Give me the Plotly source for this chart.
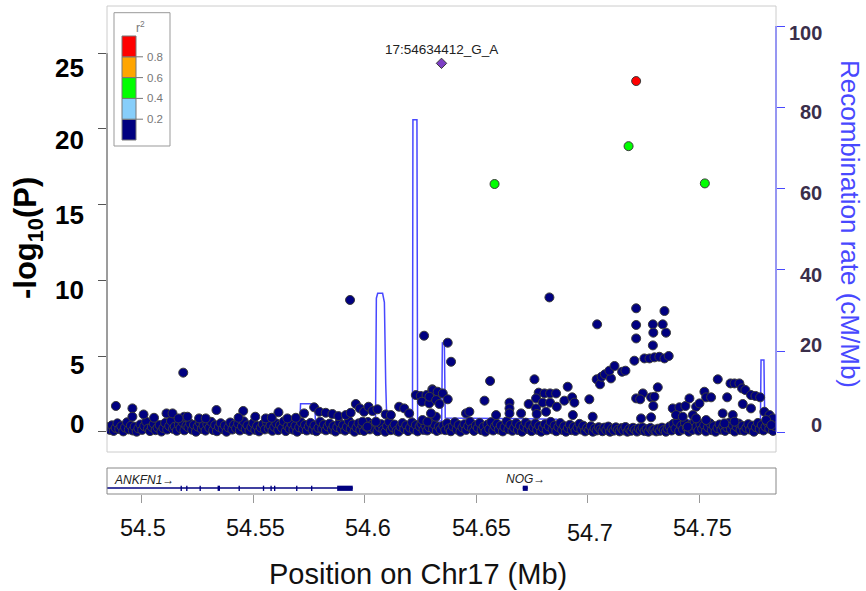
import plotly.graph_objects as go

# ---------------- data ----------------
x_range = [54.484412, 54.784412]

lead_name = "17:54634412_G_A"
lead_pos = [54.634412]
lead_logp = [24.33]

hi_pos = [54.7217, 54.7183, 54.6582, 54.7525]
hi_logp = [23.16, 18.86, 16.36, 16.40]
hi_r2 = [0.85, 0.50, 0.50, 0.50]

mid_pos = [54.4884, 54.4958, 54.5008, 54.4958, 54.5111, 54.5138, 54.5055, 54.5190, 54.5205, 54.5165,
           54.5186, 54.5335, 54.5257, 54.5287, 54.5455, 54.5434, 54.5509, 54.5556, 54.5583, 54.5613,
           54.5653, 54.5691, 54.5728, 54.5773, 54.5796, 54.5825, 54.5855, 54.5882, 54.5915, 54.5937,
           54.5934, 54.5960, 54.5978, 54.5997, 54.6017, 54.6035, 54.6057, 54.6094, 54.6117, 54.6154,
           54.6177, 54.6199, 54.6229, 54.6251, 54.6277, 54.6303, 54.6326, 54.6256, 54.6289, 54.6259,
           54.6281, 54.6319, 54.5990, 54.6050, 54.6012, 54.6266,
           54.6305, 54.6327, 54.6290, 54.6320, 54.6350, 54.6372, 54.6372, 54.6387, 54.6297, 54.6335,
           54.6454, 54.6469, 54.6537, 54.6562, 54.6589, 54.6649, 54.6649, 54.6649, 54.6701, 54.6735,
           54.6761, 54.6780, 54.6806, 54.6831, 54.6858, 54.6768, 54.6798, 54.6831, 54.6861, 54.6768,
           54.6813, 54.6771, 54.6828, 54.6895, 54.6910, 54.6930, 54.6940, 54.6933, 54.7007, 54.7022,
           54.7040, 54.7055, 54.7062, 54.7077, 54.7104, 54.7097, 54.7120, 54.7154, 54.7169, 54.7042,
           54.7209, 54.7254, 54.7277, 54.7299, 54.7321, 54.7344, 54.7363, 54.7217, 54.7217, 54.7217,
           54.7292, 54.7336, 54.7344, 54.7294, 54.7351, 54.7292, 54.7314, 54.7247, 54.7217, 54.7235,
           54.7284, 54.7299, 54.7294, 54.7284, 54.7239, 54.7381, 54.7411, 54.7438, 54.7456, 54.7486,
           54.7501, 54.7523, 54.7531, 54.7553, 54.7583, 54.7625, 54.7640, 54.7658, 54.7680, 54.7692,
           54.7707, 54.7732, 54.7752, 54.7773, 54.7605, 54.7650, 54.7695, 54.7732, 54.7613, 54.7658,
           54.7396, 54.7426, 54.7471, 54.7486, 54.7531, 54.7448, 54.7792, 54.7815, 54.7830, 54.7800,
           54.7823]
mid_logp = [1.70, 1.54, 1.14, 0.99, 1.21, 1.21, 0.92, 0.99, 0.99, 0.88,
            3.90, 1.43, 0.88, 0.88, 1.37, 0.92, 0.99, 0.88, 0.92, 1.28,
            0.88, 0.92, 1.21, 1.61, 1.32, 1.25, 1.17, 1.03, 1.10, 1.25,
            8.70, 1.83, 1.54, 1.32, 1.65, 1.37, 1.48, 1.14, 1.10, 1.65,
            1.54, 1.21, 2.42, 2.36, 2.42, 2.80, 2.42, 1.98, 1.87, 0.77,
            0.66, 0.99, 0.66, 0.66, 0.33, 6.34,
            2.75, 2.64, 2.31, 2.09, 2.53, 2.14, 5.88, 4.62, 1.21, 1.83,
            1.21, 1.32, 2.05, 3.35, 1.10, 1.92, 1.54, 1.21, 1.21, 1.83,
            3.46, 2.58, 2.53, 2.53, 2.53, 2.20, 1.92, 1.92, 1.65, 1.54,
            1.32, 1.17, 8.87, 2.05, 2.97, 2.27, 1.92, 1.10, 2.14, 0.99,
            3.46, 3.13, 3.63, 3.79, 3.52, 4.03, 4.34, 3.96, 4.03, 7.09,
            4.69, 4.84, 4.84, 4.91, 4.95, 4.84, 5.00, 8.15, 7.05, 6.16,
            7.09, 7.09, 7.97, 6.54, 6.54, 5.70, 2.93, 2.53, 2.20, 2.14,
            2.27, 2.31, 1.70, 0.95, 0.88, 1.54, 1.61, 1.70, 2.20, 1.65,
            1.87, 2.64, 2.27, 2.27, 3.46, 2.27, 3.19, 3.19, 3.19, 2.86,
            2.75, 2.42, 2.36, 2.27, 1.21, 1.10, 1.83, 1.54, 0.55, 0.66,
            1.10, 0.99, 1.10, 0.88, 0.77, 0.33, 1.32, 1.10, 0.88, 0.77,
            0.44]

low_pos = [54.4849, 54.4857, 54.4866, 54.4874, 54.4883, 54.4891, 54.4899, 54.4908, 54.4917, 54.4925,
           54.4934, 54.4942, 54.4951, 54.4960, 54.4968, 54.4977, 54.4985, 54.4994, 54.5002, 54.5011,
           54.5020, 54.5028, 54.5037, 54.5045, 54.5054, 54.5062, 54.5071, 54.5080, 54.5088, 54.5097,
           54.5105, 54.5114, 54.5123, 54.5131, 54.5140, 54.5148, 54.5157, 54.5166, 54.5174, 54.5183,
           54.5191, 54.5200, 54.5209, 54.5217, 54.5226, 54.5234, 54.5243, 54.5251, 54.5260, 54.5269,
           54.5277, 54.5286, 54.5294, 54.5303, 54.5312, 54.5320, 54.5329, 54.5337, 54.5346, 54.5354,
           54.5363, 54.5372, 54.5380, 54.5389, 54.5397, 54.5406, 54.5414, 54.5423, 54.5432, 54.5440,
           54.5449, 54.5457, 54.5466, 54.5474, 54.5483, 54.5492, 54.5500, 54.5509, 54.5517, 54.5526,
           54.5534, 54.5543, 54.5552, 54.5560, 54.5569, 54.5577, 54.5586, 54.5594, 54.5603, 54.5612,
           54.5620, 54.5629, 54.5637, 54.5646, 54.5654, 54.5663, 54.5672, 54.5680, 54.5689, 54.5697,
           54.5706, 54.5714, 54.5723, 54.5732, 54.5740, 54.5749, 54.5757, 54.5766, 54.5774, 54.5783,
           54.5792, 54.5800, 54.5809, 54.5817, 54.5826, 54.5834, 54.5843, 54.5852, 54.5860, 54.5869,
           54.5877, 54.5886, 54.5894, 54.5903, 54.5912, 54.5920, 54.5929, 54.5937, 54.5946, 54.5954,
           54.5963, 54.5972, 54.5980, 54.5989, 54.5997, 54.6006, 54.6014, 54.6023, 54.6032, 54.6040,
           54.6049, 54.6057, 54.6066, 54.6074, 54.6083, 54.6092, 54.6100, 54.6109, 54.6117, 54.6126,
           54.6134, 54.6143, 54.6152, 54.6160, 54.6169, 54.6177, 54.6186, 54.6194, 54.6203, 54.6212,
           54.6220, 54.6229, 54.6237, 54.6246, 54.6254, 54.6263, 54.6272, 54.6280, 54.6289, 54.6297,
           54.6306, 54.6314, 54.6323, 54.6332, 54.6340,
           54.6352, 54.6361, 54.6369, 54.6378, 54.6386, 54.6395, 54.6404, 54.6412, 54.6421, 54.6429,
           54.6438, 54.6447, 54.6455, 54.6464, 54.6472, 54.6481, 54.6490, 54.6498, 54.6507, 54.6515,
           54.6524, 54.6533, 54.6541, 54.6550, 54.6558, 54.6567, 54.6576, 54.6584, 54.6593, 54.6601,
           54.6610, 54.6619, 54.6627, 54.6636, 54.6644, 54.6653, 54.6662, 54.6670, 54.6679, 54.6687,
           54.6696, 54.6705, 54.6713, 54.6722, 54.6730, 54.6739, 54.6748, 54.6756, 54.6765, 54.6773,
           54.6782, 54.6791, 54.6799, 54.6808, 54.6816, 54.6825, 54.6834, 54.6842, 54.6851, 54.6859,
           54.6868, 54.6877, 54.6885, 54.6894, 54.6902, 54.6911, 54.6920, 54.6928, 54.6937, 54.6945,
           54.6954, 54.6963, 54.6971, 54.6980, 54.6988, 54.6997, 54.7006, 54.7014, 54.7023, 54.7031,
           54.7040, 54.7049, 54.7057, 54.7066, 54.7074, 54.7083, 54.7092, 54.7100, 54.7109, 54.7117,
           54.7126, 54.7135, 54.7143, 54.7152, 54.7160, 54.7169, 54.7178, 54.7186, 54.7195, 54.7203,
           54.7212, 54.7221, 54.7229, 54.7238, 54.7246, 54.7255, 54.7264, 54.7272, 54.7281, 54.7290,
           54.7298, 54.7307, 54.7315, 54.7324, 54.7333, 54.7341, 54.7350, 54.7358, 54.7367, 54.7376,
           54.7384, 54.7393, 54.7401, 54.7410, 54.7419, 54.7427, 54.7436, 54.7444, 54.7453, 54.7462,
           54.7470, 54.7479, 54.7487, 54.7496, 54.7505, 54.7513, 54.7522, 54.7530, 54.7539, 54.7548,
           54.7556, 54.7565, 54.7573, 54.7582, 54.7591, 54.7599, 54.7608, 54.7616, 54.7625, 54.7634,
           54.7642, 54.7651, 54.7659, 54.7668, 54.7677, 54.7685, 54.7694, 54.7702, 54.7711, 54.7720,
           54.7728, 54.7737, 54.7745, 54.7754, 54.7763, 54.7771, 54.7780, 54.7788, 54.7797, 54.7805,
           54.7814, 54.7822, 54.7831, 54.7839]
low_logp = [0.30, 0.12, 0.42, 0.05, 0.25, 0.55, 0.18, 0.36, 0.02, 0.28,
            0.62, 0.15, 0.40, 0.08, 0.33, 0.00, 0.22, 0.48, 0.12, 0.37,
            0.66, 0.20, 0.04, 0.31, 0.52, 0.10, 0.27, 0.44, 0.01, 0.24,
            0.58, 0.14, 0.38, 0.70, 0.19, 0.33, 0.06, 0.47, 0.23, 0.63,
            0.09, 0.40, 0.29, 0.54, 0.13, 0.45, 0.00, 0.34, 0.60, 0.18,
            0.39, 0.07, 0.50, 0.26, 0.65, 0.11, 0.43, 0.03, 0.32, 0.56,
            0.17, 0.41, 0.00, 0.28, 0.61, 0.14, 0.46, 0.22, 0.53, 0.08,
            0.35, 0.69, 0.16, 0.42, 0.05, 0.30, 0.57, 0.12, 0.38, 0.02,
            0.27, 0.49, 0.15, 0.64, 0.21, 0.40, 0.06, 0.33, 0.55, 0.10,
            0.44, 0.25, 0.68, 0.04, 0.36, 0.19, 0.51, 0.13, 0.39, 0.00,
            0.29, 0.62, 0.17, 0.45, 0.08, 0.34, 0.58, 0.12, 0.41, 0.03,
            0.26, 0.66, 0.20, 0.47, 0.09, 0.35, 0.54, 0.14, 0.38, 0.01,
            0.30, 0.60, 0.16, 0.43, 0.07, 0.32, 0.70, 0.18, 0.48, 0.00,
            0.28, 0.55, 0.11, 0.40, 0.05, 0.35, 0.64, 0.15, 0.46, 0.22,
            0.58, 0.03, 0.31, 0.50, 0.13, 0.00, 0.38, 0.66, 0.10, 0.29,
            0.47, 0.06, 0.00, 0.34, 0.57, 0.18, 0.42, 0.04, 0.27, 0.61,
            0.15, 0.44, 0.02, 0.36, 0.53, 0.12, 0.40, 0.08, 0.30, 0.63,
            0.19, 0.45, 0.05, 0.33, 0.14,
            0.40, 0.10, 0.55, 0.22, 0.03, 0.35, 0.62, 0.15, 0.44, 0.00,
            0.28, 0.50, 0.12, 0.37, 0.66, 0.20, 0.05, 0.42, 0.25, 0.58,
            0.10, 0.33, 0.00, 0.47, 0.18, 0.63, 0.08, 0.36, 0.52, 0.14,
            0.40, 0.02, 0.30, 0.68, 0.16, 0.45, 0.06, 0.27, 0.56, 0.11,
            0.39, 0.00, 0.32, 0.60, 0.17, 0.43, 0.04, 0.29, 0.54, 0.13,
            0.38, 0.00, 0.26, 0.49, 0.09, 0.35, 0.65, 0.15, 0.41, 0.03,
            0.31, 0.57, 0.12, 0.37, 0.00, 0.24, 0.46, 0.10, 0.33, 0.05,
            0.28, 0.52, 0.14, 0.40, 0.02, 0.25, 0.11, 0.36, 0.00, 0.22,
            0.08, 0.30, 0.15, 0.03, 0.27, 0.10, 0.34, 0.00, 0.20, 0.07,
            0.29, 0.13, 0.02, 0.24, 0.09, 0.31, 0.00, 0.18, 0.06, 0.26,
            0.12, 0.01, 0.22, 0.10, 0.28, 0.04, 0.17, 0.00, 0.25, 0.09,
            0.14, 0.02, 0.20, 0.06, 0.27, 0.11, 0.00, 0.19, 0.35, 0.08,
            0.52, 0.21, 0.66, 0.04, 0.40, 0.15, 0.58, 0.27, 0.00, 0.45,
            0.12, 0.63, 0.33, 0.07, 0.50, 0.18, 0.42, 0.02, 0.30, 0.56,
            0.10, 0.37, 0.00, 0.24, 0.48, 0.13, 0.35, 0.05, 0.28, 0.60,
            0.16, 0.42, 0.01, 0.32, 0.54, 0.11, 0.38, 0.06, 0.26, 0.50,
            0.14, 0.40, 0.00, 0.30, 0.58, 0.17, 0.44, 0.08, 0.33, 0.62,
            0.20, 0.47, 0.05, 0.36]

rec_pos = [54.4844, 54.5200, 54.5500, 54.5708, 54.5712, 54.5776, 54.5780, 54.6048, 54.6052, 54.6058,
           54.6080, 54.6088, 54.6094, 54.6100, 54.6214, 54.6216, 54.6234, 54.6237, 54.6345, 54.6348,
           54.6357, 54.6361, 54.6600, 54.6862, 54.6900, 54.7364, 54.7387, 54.7529, 54.7560, 54.7774,
           54.7777, 54.7790, 54.7794, 54.7842]
rec_rate = [0.6, 0.8, 0.5, 0.7, 7.0, 7.0, 0.7, 0.6, 33.0, 34.2,
            34.2, 32.0, 12.0, 0.6, 0.5, 76.9, 76.9, 2.8, 2.8, 22.0,
            22.0, 3.5, 3.4, 3.2, 0.6, 0.6, 3.0, 3.0, 0.1, 0.2,
            17.8, 17.8, 1.2, 1.2]

gene_names = ["ANKFN1", "NOG"]
gene_starts = [54.2308, 54.67085]
gene_ends = [54.59462, 54.67309]
exon_starts = [54.51740, 54.51990, 54.52590, 54.53400, 54.54340, 54.55430, 54.55770, 54.55930,
               54.56920, 54.57590, 54.58762, 54.67085]
exon_ends = [54.51800, 54.52050, 54.52650, 54.53510, 54.54400, 54.55490, 54.55830, 54.55990,
             54.56980, 54.57650, 54.59462, 54.67309]

x_ticks = [54.5, 54.55, 54.6, 54.65, 54.7, 54.75]
x_tick_labels = ["54.5", "54.55", "54.6", "54.65", "54.7", "54.75"]
y_ticks = [25, 20, 15, 10, 5, 0]
y_tick_labels = ["25", "20", "15", "10", "5", "0"]
rec_ticks = [100, 80, 60, 40, 20, 0]
rec_tick_labels = ["100", "80", "60", "40", "20", "0"]

r2_bounds = [0.0, 0.2, 0.4, 0.6, 0.8, 1.0]
r2_colors = ["#000080", "#87CEFA", "#00FF00", "#FFA500", "#FF0000"]
r2_tick_labels = ["0.2", "0.4", "0.6", "0.8"]

# ---------------- layout helpers ----------------
W, H = 866, 591
ML, MR, MT, MB = 107, 90, 6, 97
PW = W - ML - MR
PH = H - MT - MB
BASE = H - MB


def px_x(px):
    return (px - ML) / PW


def px_y(py):
    return (BASE - py) / PH


def r2_color(r):
    for i in range(len(r2_colors)):
        if r < r2_bounds[i + 1] or i == len(r2_colors) - 1:
            return r2_colors[i]


FONT = "Liberation Sans, Arial, sans-serif"
BLUE = "#4848ff"
DARK_LBL = "#3a2e4a"

fig = go.Figure()

# recombination rate (drawn behind the points)
fig.add_trace(go.Scatter(x=rec_pos, y=rec_rate, mode="lines", xaxis="x", yaxis="y",
                         line=dict(color=BLUE, width=1.5), hoverinfo="skip", showlegend=False))

# SNPs
pts_pos = low_pos + mid_pos
pts_logp = low_logp + mid_logp
fig.add_trace(go.Scatter(x=pts_pos, y=pts_logp, mode="markers", xaxis="x", yaxis="y2",
                         marker=dict(size=9, color=r2_colors[0], line=dict(color="#3a3a3a", width=1)),
                         showlegend=False))
fig.add_trace(go.Scatter(x=hi_pos, y=hi_logp, mode="markers", xaxis="x", yaxis="y2",
                         marker=dict(size=9, color=[r2_color(r) for r in hi_r2],
                                     line=dict(color="#3a3a3a", width=1)),
                         showlegend=False))
fig.add_trace(go.Scatter(x=lead_pos, y=lead_logp, mode="markers", xaxis="x", yaxis="y2",
                         marker=dict(size=8, symbol="diamond", color="#7d3fc4",
                                     line=dict(color="#3a3a3a", width=1)),
                         showlegend=False))

# genes
for name, s, e in zip(gene_names, gene_starts, gene_ends):
    fig.add_trace(go.Scatter(x=[s, e], y=[0.23, 0.23], mode="lines", xaxis="x2", yaxis="y3",
                             line=dict(color="#000080", width=1.5), hoverinfo="skip",
                             showlegend=False))

shapes = []
# main frame
shapes.append(dict(type="rect", xref="x domain", yref="y domain", x0=0, x1=1, y0=0, y1=1,
                   line=dict(color="#cccccc", width=1), layer="below"))
# left axis line (0..25)
shapes.append(dict(type="line", xref="x domain", yref="y2", x0=0, x1=0, y0=y_ticks[-1], y1=y_ticks[0],
                   line=dict(color="#555555", width=1)))
# right axis line (0..100)
shapes.append(dict(type="line", xref="x domain", yref="y", x0=1, x1=1, y0=rec_ticks[-1], y1=rec_ticks[0],
                   line=dict(color=BLUE, width=1)))
# gene panel box
shapes.append(dict(type="rect", xref="x2 domain", yref="y3 domain", x0=0, x1=1, y0=0, y1=1,
                   line=dict(color="#888888", width=1)))
for s, e in zip(exon_starts, exon_ends):
    shapes.append(dict(type="rect", xref="x2", yref="y3", x0=s, x1=e, y0=0.12, y1=0.32,
                       fillcolor="#000080", line=dict(width=0)))

# r2 legend
shapes.append(dict(type="rect", xref="paper", yref="paper", x0=px_x(114), x1=px_x(170),
                   y0=px_y(146), y1=px_y(12.7), line=dict(color="#999999", width=1),
                   fillcolor="white"))
leg_bot, leg_top = 140.0, 36.0


def leg_y(r):
    return leg_bot - r * (leg_bot - leg_top)


for i, c in enumerate(r2_colors):
    shapes.append(dict(type="rect", xref="paper", yref="paper", x0=px_x(122), x1=px_x(136),
                       y0=px_y(leg_y(r2_bounds[i])), y1=px_y(leg_y(r2_bounds[i + 1])),
                       fillcolor=c, line=dict(color="#777777", width=1)))

annotations = []
for b, lab in zip(r2_bounds[1:-1], r2_tick_labels):
    shapes.append(dict(type="line", xref="paper", yref="paper", x0=px_x(136), x1=px_x(143),
                       y0=px_y(leg_y(b)), y1=px_y(leg_y(b)), line=dict(color="#777777", width=1)))
    annotations.append(dict(text=lab, xref="paper", yref="paper", x=px_x(145), y=px_y(leg_y(b)),
                            xanchor="left", yanchor="middle", showarrow=False,
                            font=dict(family=FONT, size=11.5, color="#777777")))
annotations.append(dict(text="r<sup>2</sup>", xref="paper", yref="paper", x=px_x(140.5), y=px_y(27),
                        xanchor="center", yanchor="middle", showarrow=False,
                        font=dict(family=FONT, size=12, color="#777777")))

# lead SNP label
annotations.append(dict(text=lead_name, xref="x", yref="y2", x=lead_pos[0], y=lead_logp[0],
                        yshift=14, xanchor="center", yanchor="middle", showarrow=False,
                        font=dict(family=FONT, size=13.5, color="#222222")))

# gene labels
annotations.append(dict(text="<i>" + gene_names[0] + "\u2192</i>", xref="x2 domain", yref="y3",
                        x=px_x(112), y=0.54, xanchor="left", yanchor="middle", showarrow=False,
                        font=dict(family=FONT, size=12, color="#222222")))
annotations.append(dict(text="<i>" + gene_names[1] + "\u2192</i>", xref="x2", yref="y3",
                        x=(gene_starts[1] + gene_ends[1]) / 2 + 0.0003, y=0.58, xanchor="center",
                        yanchor="middle", showarrow=False,
                        font=dict(family=FONT, size=12, color="#222222")))

# x tick labels
x_lbl_xshift = [1.4, 2.7, 3.3, 5.0, 2.0, 3.0]
x_lbl_yshift = [0, 0, 0, 0, -4.5, 0]
for v, lab, dx, dy in zip(x_ticks, x_tick_labels, x_lbl_xshift, x_lbl_yshift):
    annotations.append(dict(text=lab, xref="x2", yref="paper", x=v, y=px_y(528),
                            xshift=dx, yshift=dy, xanchor="center", yanchor="middle",
                            showarrow=False, font=dict(family=FONT, size=23.5, color="#111111")))

# left tick labels
y_lbl_yshift = [-14.7, -11, -10.7, -10, -9.3, 7.5]
for v, lab, dy in zip(y_ticks, y_tick_labels, y_lbl_yshift):
    annotations.append(dict(text="<b>" + lab + "</b>", xref="paper", yref="y2", x=px_x(86), y=v,
                            yshift=dy, xanchor="right", yanchor="middle", showarrow=False,
                            font=dict(family=FONT, size=26, color="#000000")))

# right tick labels
r_lbl_yshift = [-7, -4.7, -4.7, -5, 6, 7]
for v, lab, dy in zip(rec_ticks, rec_tick_labels, r_lbl_yshift):
    annotations.append(dict(text="<b>" + lab + "</b>", xref="paper", yref="y", x=px_x(823.5), y=v,
                            yshift=dy, xanchor="right", yanchor="middle", showarrow=False,
                            font=dict(family=FONT, size=20, color=DARK_LBL)))

# axis titles
annotations.append(dict(text="<b>-log<sub>10</sub>(P)</b>", xref="paper", yref="paper",
                        x=px_x(28), y=px_y(238), textangle=-90, xanchor="center", yanchor="middle",
                        showarrow=False, font=dict(family=FONT, size=31, color="#000000")))
annotations.append(dict(text="Recombination rate (cM/Mb)", xref="paper", yref="paper",
                        x=px_x(850), y=px_y(224), textangle=90, xanchor="center", yanchor="middle",
                        showarrow=False, font=dict(family=FONT, size=26, color=BLUE)))
annotations.append(dict(text="Position on Chr17 (Mb)", xref="paper", yref="paper",
                        x=px_x(418), y=px_y(574), xanchor="center", yanchor="middle",
                        showarrow=False, font=dict(family=FONT, size=29, color="#111111")))

main_dom = [px_y(452), 1.0]
gene_dom = [0.0, px_y(468)]
y2_range = [(431.7 - 452) / 15.14, (431.7 - 6) / 15.14]
y_range = [(432.3 - 452) / 4.063, (432.3 - 6) / 4.063]

fig.update_layout(
    width=W, height=H, autosize=False,
    margin=dict(l=ML, r=MR, t=MT, b=MB, pad=0),
    paper_bgcolor="white", plot_bgcolor="rgba(0,0,0,0)",
    showlegend=False,
    xaxis=dict(domain=[0, 1], range=x_range, anchor="y", showgrid=False, zeroline=False,
               showticklabels=False, ticks="", showline=False),
    yaxis=dict(domain=main_dom, range=y_range, anchor="x", side="right", showgrid=False,
               zeroline=False, tickvals=rec_ticks, ticks="outside", ticklen=8, tickwidth=1,
               tickcolor=BLUE, showticklabels=False, showline=False),
    yaxis2=dict(overlaying="y", range=y2_range, anchor="x", side="left", showgrid=False,
                zeroline=False, tickvals=y_ticks, ticks="outside", ticklen=8, tickwidth=1,
                tickcolor="#555555", showticklabels=False, showline=False),
    xaxis2=dict(domain=[0, 1], range=x_range, anchor="y3", showgrid=False, zeroline=False,
                tickvals=x_ticks, ticks="outside", ticklen=8, tickwidth=1, tickcolor="#999999",
                showticklabels=False, showline=False),
    yaxis3=dict(domain=gene_dom, range=[0, 1], anchor="x2", showgrid=False, zeroline=False,
                showticklabels=False, ticks="", showline=False),
    shapes=shapes,
    annotations=annotations,
)

fig.write_html("out.html", config={"displayModeBar": False},
               post_script="document.body.style.margin='0';")
